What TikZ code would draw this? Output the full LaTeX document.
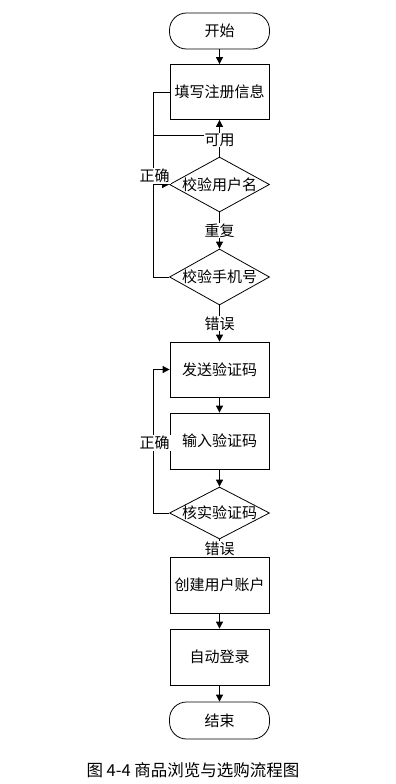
\documentclass[tikz,border=0pt]{standalone}
\usepackage{fontspec}
\setmainfont{Noto Sans CJK SC}
\usetikzlibrary{arrows.meta,shapes.geometric}
\newcommand{\fsz}{\fontsize{15}{17}\selectfont}
\begin{document}
\begin{tikzpicture}[x=1pt,y=-1pt,
  box/.style={draw,line width=0.8pt,minimum width=99pt,minimum height=55pt,inner sep=0pt,font=\fsz},
  term/.style={draw,line width=0.8pt,rounded corners=17pt,minimum width=100pt,minimum height=36pt,inner sep=0pt,font=\fsz},
  dia/.style={draw,diamond,line width=0.8pt,minimum width=100pt,minimum height=55pt,inner sep=0pt},
  txt/.style={font=\fsz,inner sep=0pt},
  lab/.style={fill=white,inner sep=1pt,font=\fsz},
  ln/.style={line width=0.8pt},
  arr/.style={line width=0.8pt,-{Triangle[length=7pt,width=7pt]}}]
\useasboundingbox (0,0) rectangle (396,784);
\fill[white] (0,0) rectangle (396,784);
% nodes
\node[term] (start) at (219.5,31) {开始};
\node[box] (fill) at (219.5,92) {填写注册信息};
\node[dia] (c1) at (219.5,184.5) {};
\node[txt] (c1t) at (c1) {校验用户名};
\node[dia, minimum height=56pt] (c2) at (219.5,277) {};
\node[txt] (c2t) at (c2) {校验手机号};
\node[box] (send) at (219.5,369.5) {发送验证码};
\node[box, minimum height=56pt] (input) at (219.5,441) {输入验证码};
\node[dia, minimum height=52pt] (c3) at (219.5,513) {};
\node[txt] (c3t) at (c3) {核实验证码};
\node[box, minimum height=56pt] (create) at (219.5,585) {创建用户账户};
\node[box, minimum height=56pt] (auto) at (219.5,657) {自动登录};
\node[term, minimum height=37pt] (stop) at (219.5,720.5) {结束};
\coordinate (lx) at (153,0);
\coordinate (j1) at (153,135);
% connectors
\draw[arr] (start) -- (fill);
\draw[ln] (fill.west) -- (fill.west -| lx) -- (c1.west -| lx);
\draw[ln] (j1) -- (j1 -| c1.north);
\draw[arr] (c1.north) -- node[lab,pos=0.45] (ok) {可用} (fill.south);
\draw[arr] (c2.west) -- (c2.west -| lx) -- (c1.west -| lx) -- (c1.west);
\node[lab] (r1) at (154.5,176) {正确};
\draw[arr] (c1) -- node[lab] (dup) {重复} (c2);
\draw[arr] (c2) -- node[lab] (e1) {错误} (send);
\draw[arr] (send) -- (input);
\draw[arr] (input) -- (c3);
\draw[arr] (c3.west) -- (c3.west -| lx) -- (send.west -| lx) -- (send.west);
\node[lab] (r2) at (154.5,443) {正确};
\draw[ln] (c3) -- (create);
\node[lab] (e2) at (219.5,549) {错误};
\draw[arr] (create) -- (auto);
\draw[arr] (auto) -- (stop);
\node[font=\fontsize{16.5}{19}\selectfont,inner sep=0pt] (cap) at (193,770) {图 4-4 商品浏览与选购流程图};
\end{tikzpicture}
\end{document}
